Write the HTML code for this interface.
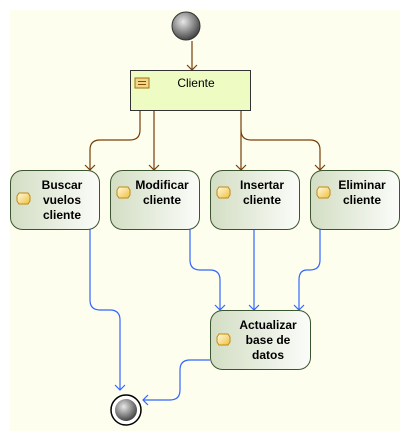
<!DOCTYPE html>
<html><head><meta charset="utf-8"><style>
html,body{margin:0;padding:0;background:#fff;}
svg{display:block;}
text{font-family:"Liberation Sans",sans-serif;font-size:12px;font-weight:bold;fill:#000;}
</style></head><body>
<svg width="410" height="441" viewBox="0 0 410 441">
<defs>
<linearGradient id="ng" x1="0" x2="1" y1="0" y2="0"><stop offset="0" stop-color="#d3dec4"/><stop offset="1" stop-color="#fbfcf9"/></linearGradient>
<radialGradient id="bg" cx="0.4" cy="0.35" r="0.7"><stop offset="0" stop-color="#e8e8e8"/><stop offset="1" stop-color="#3a3a3a"/></radialGradient>
<linearGradient id="ig" x1="0" x2="1" y1="0" y2="1"><stop offset="0" stop-color="#fffbe0"/><stop offset="1" stop-color="#f0c040"/></linearGradient>
</defs>
<rect x="10" y="10" width="390" height="421" fill="#fefeee"/>
<circle cx="186" cy="26" r="14" fill="url(#bg)" stroke="#333" stroke-width="1"/>
<g fill="none" stroke="#7a3e08" stroke-width="1.2">
<path d="M192 41V70"/><path d="M187 65l5 5 5-5"/>
<path d="M140 110V130q0 10-10 10H100q-10 0-10 10V170"/><path d="M85 165l5 5 5-5"/>
<path d="M154 110V170"/><path d="M149 165l5 5 5-5"/>
<path d="M241 110V170"/><path d="M236 165l5 5 5-5"/>
<path d="M241 130q0 10 10 10H310q10 0 10 10V170"/><path d="M315 165l5 5 5-5"/>
</g>
<rect x="130.5" y="70.5" width="120" height="40" fill="#eefcc4" stroke="#333"/>
<rect x="135" y="78" width="14" height="10" fill="#f3d68a" stroke="#a07010"/>
<path d="M138 81.5h8M138 84.5h8" stroke="#805000"/>
<text x="196" y="87" text-anchor="middle" style="font-weight:normal">Cliente</text>
<g fill="none" stroke="#3366ff" stroke-width="1.2">
<path d="M90 229V300q0 10 10 10H110q10 0 10 10V390"/><path d="M115 385l5 5 5-5"/>
<path d="M190 229V260q0 10 10 10H210q10 0 10 10V310"/><path d="M215 305l5 5 5-5"/>
<path d="M254 229V310"/><path d="M249 305l5 5 5-5"/>
<path d="M320 229V260q0 10-10 10H307q-8 0-8 10V310"/><path d="M294 305l5 5 5-5"/>
<path d="M210 360H190q-10 0-10 10V390q0 10-10 10H143"/><path d="M148 395l-5 5 5 5"/>
</g>
<circle cx="126" cy="410" r="15" fill="#fff" stroke="#000" stroke-width="1.5"/>
<circle cx="126" cy="410" r="11" fill="url(#bg)"/>
<g stroke="#3a5530" fill="url(#ng)">
<rect x="10.5" y="170.5" width="89" height="59" rx="12"/>
<rect x="110.5" y="170.5" width="89" height="59" rx="12"/>
<rect x="210.5" y="170.5" width="89" height="59" rx="12"/>
<rect x="310.5" y="170.5" width="89" height="59" rx="12"/>
<rect x="210.5" y="310.5" width="100" height="59" rx="12"/>
</g>
<g fill="url(#ig)" stroke="#c08a10">
<path d="M19 193h9l2 3v5l-2 3h-9l-2-3v-5z"/>
<path d="M119 187h9l2 3v5l-2 3h-9l-2-3v-5z"/>
<path d="M219 187h9l2 3v5l-2 3h-9l-2-3v-5z"/>
<path d="M319 187h9l2 3v5l-2 3h-9l-2-3v-5z"/>
<path d="M219 334h9l2 3v5l-2 3h-9l-2-3v-5z"/>
</g>
<g text-anchor="middle">
<text x="62" y="189">Buscar</text><text x="62" y="204">vuelos</text><text x="62" y="219">cliente</text>
<text x="162" y="189">Modificar</text><text x="162" y="204">cliente</text>
<text x="262" y="189">Insertar</text><text x="262" y="204">cliente</text>
<text x="362" y="189">Eliminar</text><text x="362" y="204">cliente</text>
<text x="268" y="329">Actualizar</text><text x="268" y="344">base de</text><text x="268" y="359">datos</text>
</g>
</svg>
</body></html>
